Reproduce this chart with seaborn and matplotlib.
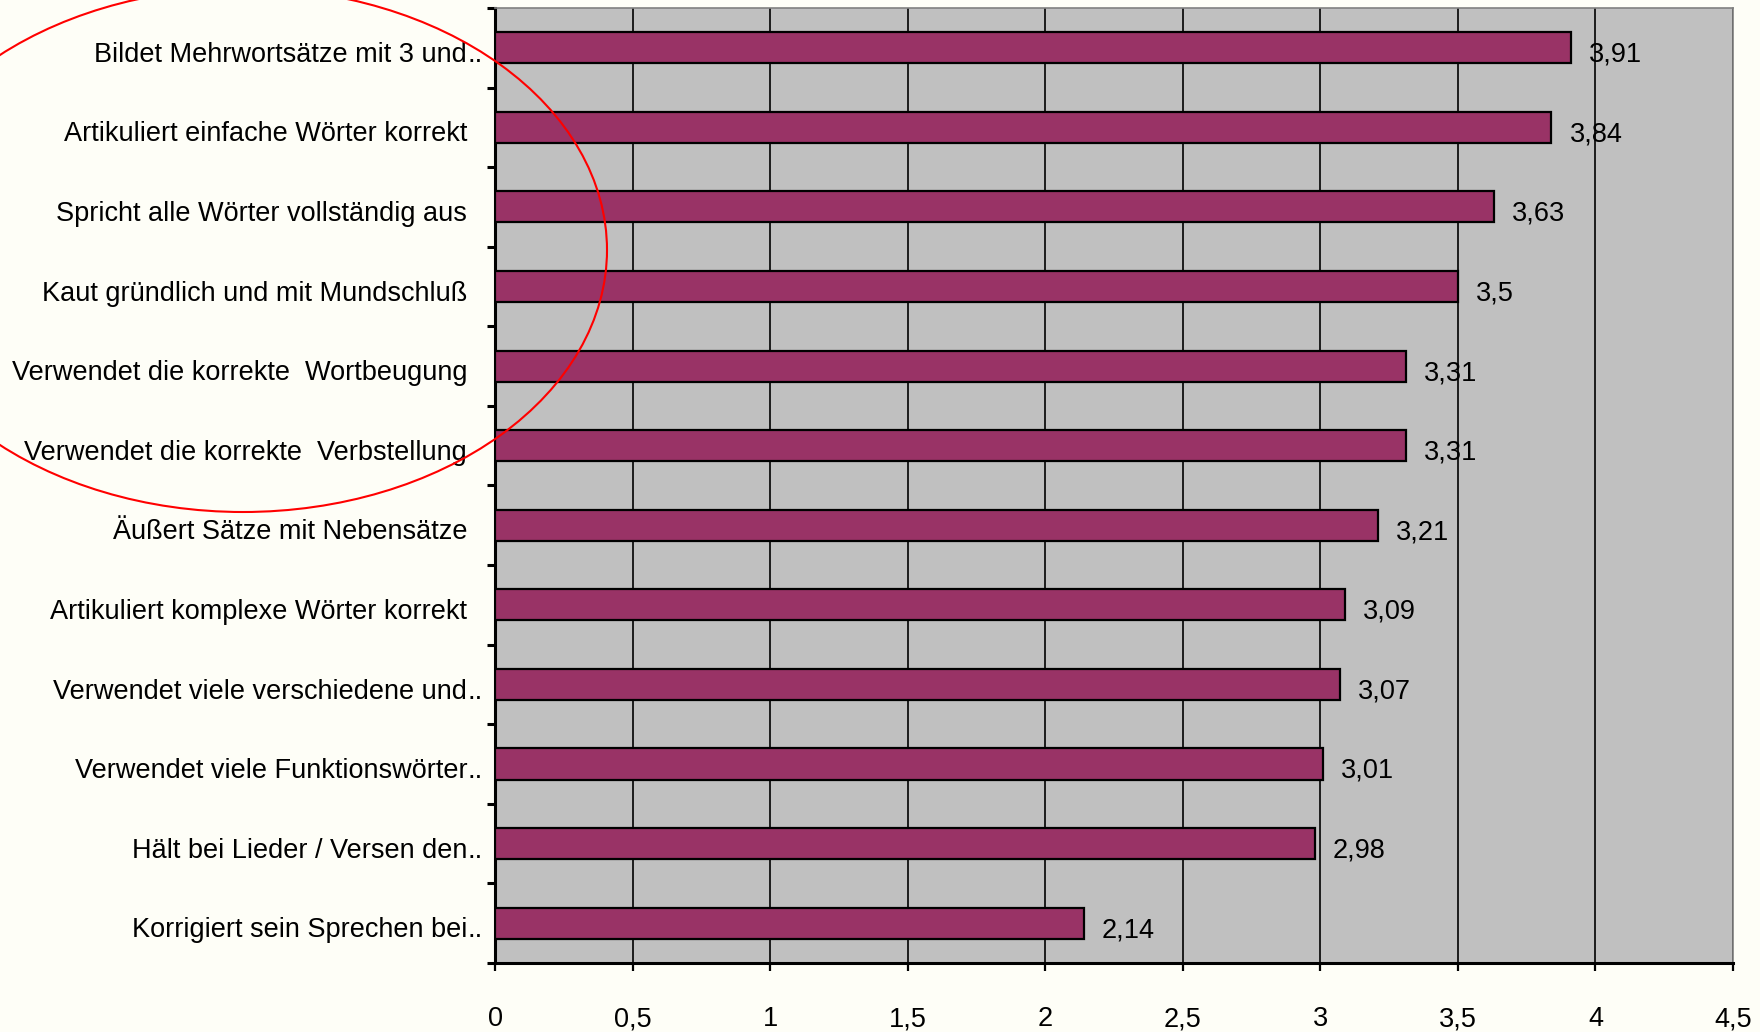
import matplotlib
matplotlib.use("Agg")
import matplotlib.pyplot as plt
from matplotlib.patches import Ellipse
from matplotlib.ticker import FixedLocator
from matplotlib.transforms import ScaledTranslation
import seaborn as sns
import pandas as pd

# Category labels as shown on the axis (".." marks a shortened label)
categories = [
    "Bildet Mehrwortsätze mit 3 und..",
    "Artikuliert einfache Wörter korrekt",
    "Spricht alle Wörter vollständig aus",
    "Kaut gründlich und mit Mundschluß",
    "Verwendet die korrekte  Wortbeugung",
    "Verwendet die korrekte  Verbstellung",
    "Äußert Sätze mit Nebensätze",
    "Artikuliert komplexe Wörter korrekt",
    "Verwendet viele verschiedene und..",
    "Verwendet viele Funktionswörter..",
    "Hält bei Lieder / Versen den..",
    "Korrigiert sein Sprechen bei..",
]
mean_scores = [3.91, 3.84, 3.63, 3.5, 3.31, 3.31, 3.21, 3.09, 3.07, 3.01, 2.98, 2.14]
x_ticks = [0, 0.5, 1, 1.5, 2, 2.5, 3, 3.5, 4, 4.5]

BAR_COLOR = "#993366"
PLOT_BG = "#c0c0c0"
PAGE_BG = "#fefef7"
FONT = ["Liberation Sans", "DejaVu Sans"]
FS = 19.5


def de_num(v):
    return f"{v:g}".replace(".", ",")


sns.set_theme(style="white")
plt.rcParams["font.family"] = FONT
plt.rcParams["text.color"] = "black"
plt.rcParams["xtick.labelcolor"] = "black"
plt.rcParams["ytick.labelcolor"] = "black"

df = pd.DataFrame({"item": categories, "score": mean_scores})

fig = plt.figure(figsize=(17.6, 10.32), dpi=100, facecolor=PAGE_BG)
ax = fig.add_axes([0.28125, 0.0669, 0.70341, 0.92539])
ax.set_facecolor(PLOT_BG)

sns.barplot(data=df, x="score", y="item", orient="h", color=BAR_COLOR,
            saturation=1, edgecolor="black", linewidth=1.6, width=0.39,
            ax=ax, zorder=3)

ax.set_xlim(0, 4.5)
ax.set_ylim(len(categories) - 0.5, -0.5)
ax.set_xlabel("")
ax.set_ylabel("")

# vertical gridlines
ax.xaxis.set_major_locator(FixedLocator(x_ticks))
ax.grid(axis="x", color="black", linewidth=1.2, zorder=0)
ax.grid(axis="y", visible=False)
ax.set_axisbelow(True)
ax.set_xticklabels([de_num(t) for t in x_ticks], fontsize=FS, family=FONT,
                   color="black")
ax.tick_params(axis="x", direction="out", length=6, width=1.6, color="black",
               pad=25, bottom=True)

# category labels; hanging dots for shortened labels
base_labels = [c[:-2] if c.endswith("..") else c for c in categories]
ax.set_yticks(range(len(categories)))
ax.set_yticklabels(base_labels, fontsize=FS, family=FONT, color="black")
ax.tick_params(axis="y", which="major", length=0, pad=20)
shift_down = ScaledTranslation(0, -3 / 72, fig.dpi_scale_trans)
for lbl in ax.get_yticklabels():
    lbl.set_transform(lbl.get_transform() + shift_down)
ax.yaxis.set_minor_locator(FixedLocator([i - 0.5 for i in range(len(categories) + 1)]))
ax.tick_params(axis="y", which="minor", direction="out", length=6, width=2.2,
               color="black", left=True)

for i, c in enumerate(categories):
    if c.endswith(".."):
        ax.annotate("..", xy=(0, i), xycoords=("axes fraction", "data"),
                    xytext=(-20, -3), textcoords="offset points",
                    ha="left", va="center_baseline", fontsize=FS, family=FONT,
                    color="black")

# value labels with decimal comma
for i, v in enumerate(mean_scores):
    ax.annotate(de_num(v), xy=(v, i), xytext=(13, -5), textcoords="offset points",
                ha="left", va="center", fontsize=FS, family=FONT, color="black")

for side in ["left", "bottom"]:
    ax.spines[side].set_color("black")
    ax.spines[side].set_linewidth(2.2)
for side in ["top", "right"]:
    ax.spines[side].set_color("#808080")
    ax.spines[side].set_linewidth(1.2)

# red highlight ellipse around the upper items
fig.patches.append(Ellipse((243 / 1760, 1 - 250 / 1032), 728 / 1760, 524 / 1032,
                           transform=fig.transFigure, fill=False,
                           edgecolor="#ff0000", linewidth=1.5, zorder=10))

fig.savefig("out.png", dpi=100, facecolor=PAGE_BG)
